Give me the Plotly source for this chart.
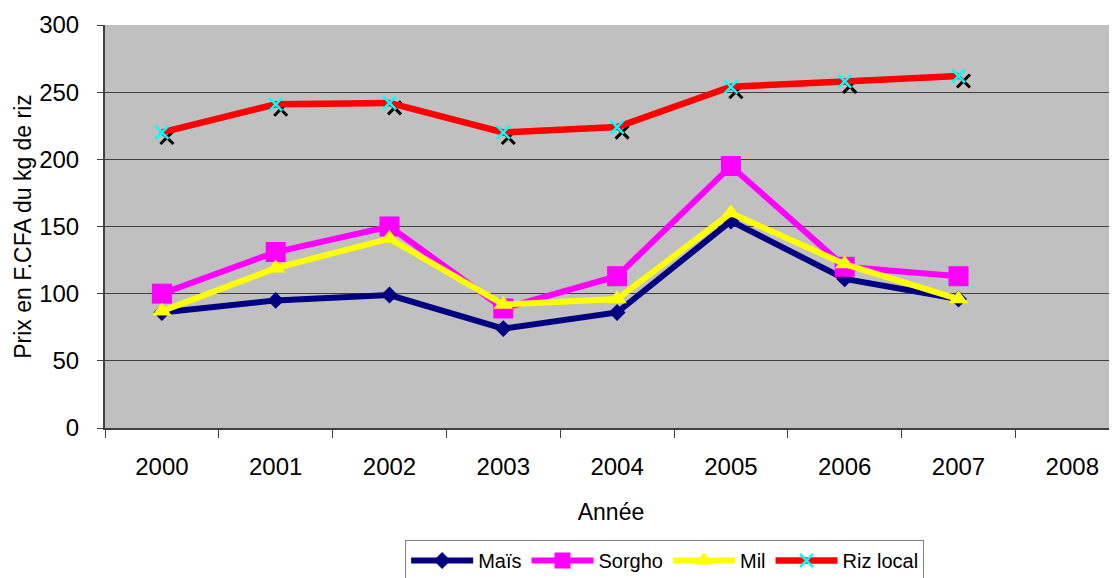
import plotly.graph_objects as go

years = ["2000", "2001", "2002", "2003", "2004", "2005", "2006", "2007"]
all_years = ["2000", "2001", "2002", "2003", "2004", "2005", "2006", "2007", "2008"]
mais = [86, 95, 99, 74, 86, 154, 111, 96]
sorgho = [100, 131, 150, 89, 113, 195, 120, 113]
mil = [87, 119, 141, 92, 96, 160, 122, 96]
riz_local = [220, 241, 242, 220, 224, 254, 258, 262]
y_ticks = [0, 50, 100, 150, 200, 250, 300]

FONT = "Liberation Sans, Arial, sans-serif"
OFF = 8  # default page body margin of the html page
W, H = 1117 - OFF, 578 - OFF
L, R, T, B = 105 - OFF, 0, 25 - OFF, 150
cat_px = 113.8
plot_w = W - L - R
plot_h = H - T - B
x_range = [-0.5, -0.5 + plot_w / cat_px]
y_range = [0, 300]
shift = 5  # px offset for the black shadow of the x markers
dx = shift / cat_px
dy = shift * (y_range[1] - y_range[0]) / plot_h

fig = go.Figure()

# black shadow "x" of Riz local markers (base axes, shifted range)
fig.add_trace(go.Scatter(
    x=years, y=riz_local, mode="markers", xaxis="x", yaxis="y",
    marker=dict(symbol="x-thin", size=13, color="black",
                line=dict(color="black", width=3)),
    showlegend=False, hoverinfo="skip"))

common = dict(mode="lines+markers", xaxis="x2", yaxis="y2")
fig.add_trace(go.Scatter(x=years, y=mais, name="Maïs",
    line=dict(color="#000080", width=6),
    marker=dict(symbol="diamond", size=13, color="#000080"), **common))
fig.add_trace(go.Scatter(x=years, y=sorgho, name="Sorgho",
    line=dict(color="#FF00FF", width=6),
    marker=dict(symbol="square", size=20, color="#FF00FF"), **common))
fig.add_trace(go.Scatter(x=years, y=mil, name="Mil",
    line=dict(color="#FFFF00", width=6),
    marker=dict(symbol="triangle-up", size=17, color="#FFFF00"), **common))
fig.add_trace(go.Scatter(x=years, y=riz_local, name="Riz local",
    line=dict(color="#FF0000", width=6.5),
    marker=dict(symbol="x-thin", size=13, color="#00FFFF",
                line=dict(color="#00FFFF", width=2.5)), **common))

legend_top_px = 540 - OFF
fig.update_layout(
    width=W, height=H,
    margin=dict(l=L, r=R, t=T, b=B, pad=0),
    paper_bgcolor="white",
    plot_bgcolor="#C0C0C0",
    font=dict(family=FONT, size=24, color="black"),
    showlegend=True,
    legend=dict(
        orientation="h", xref="paper", x=0.553, xanchor="center",
        yref="container", y=1 - legend_top_px / H, yanchor="top",
        bordercolor="#808080", borderwidth=1, bgcolor="white",
        font=dict(family=FONT, size=20, color="black"),
        traceorder="normal", itemwidth=62,
    ),
    xaxis=dict(
        type="category", categoryorder="array", categoryarray=all_years,
        range=[x_range[0] - dx, x_range[1] - dx],
        visible=False, showgrid=False, fixedrange=True,
    ),
    yaxis=dict(
        range=[y_range[0] + dy, y_range[1] + dy],
        visible=False, showgrid=False, fixedrange=True,
    ),
    xaxis2=dict(
        type="category", categoryorder="array", categoryarray=all_years,
        overlaying="x", anchor="y2", side="bottom",
        range=x_range, tickson="boundaries",
        ticks="outside", ticklen=8, tickcolor="#404040", tickwidth=1,
        showline=True, linecolor="#404040", linewidth=2,
        showgrid=False, ticklabelstandoff=16,
        tickfont=dict(family=FONT, size=24, color="black"),
        title=dict(text="Année", standoff=25,
                   font=dict(family=FONT, size=23, color="black")),
        automargin=False,
    ),
    yaxis2=dict(
        overlaying="y", anchor="x2", side="left",
        range=y_range, tickvals=y_ticks,
        ticks="outside", ticklen=6, tickcolor="#404040", tickwidth=1,
        showline=True, linecolor="#404040", linewidth=2,
        showgrid=True, gridcolor="#404040", gridwidth=1,
        zeroline=False, ticklabelstandoff=13,
        tickfont=dict(family=FONT, size=24, color="black"),
        title=dict(text="Prix en F.CFA du kg de riz", standoff=1,
                   font=dict(family=FONT, size=23, color="black")),
        automargin=False,
    ),
)

fig.write_html("out.html")
